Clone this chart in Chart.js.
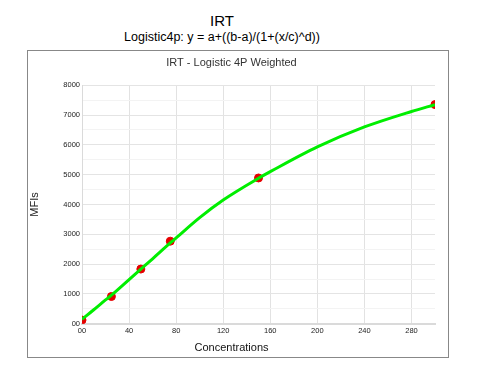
<!DOCTYPE html>
<html>
<head>
<meta charset="utf-8">
<script src="https://cdn.jsdelivr.net/npm/chart.js@4.4.0/dist/chart.umd.min.js"></script>
<style>
body{margin:0;background:#fff;font-family:"Liberation Sans",Arial,sans-serif;}
#wrap{position:relative;width:478px;height:376px;}
.hd{position:absolute;left:0;width:444px;text-align:center;color:#000;white-space:nowrap;}
#t1{top:12px;font-size:15px;}
#t2{top:30px;font-size:12.5px;}
#box{position:absolute;left:27px;top:50px;width:420px;height:306px;border:1px solid #888;}
canvas{display:block;}
</style>
</head>
<body>
<div id="wrap">
  <div class="hd" id="t1">IRT</div>
  <div class="hd" id="t2">Logistic4p: y = a+((b-a)/(1+(x/c)^d))</div>
  <div id="box"><canvas id="chart" width="420" height="306"></canvas></div>
</div>
<script>
// measured standards
var concentrations = [0, 25, 50, 75, 150, 300];
var mfiValues = [125, 915, 1835, 2770, 4890, 7350];

// fitted curve
var fitX = [0, 10, 20, 25, 30, 40, 50, 60, 75, 80, 100, 120, 150, 160, 200, 240, 280, 300];
var fitY = [150, 470, 800, 960, 1130, 1480, 1830, 2180, 2710, 2880, 3560, 4150, 4880, 5100, 5930, 6600, 7120, 7350];

var xTicks = [0, 40, 80, 120, 160, 200, 240, 280];
var xTickLabels = ['00', '40', '80', '120', '160', '200', '240', '280'];
var yTicks = [0, 500, 1000, 1500, 2000, 2500, 3000, 3500, 4000, 4500, 5000, 5500, 6000, 6500, 7000, 7500, 8000];
var yTickLabels = ['00', '', '1000', '', '2000', '', '3000', '', '4000', '', '5000', '', '6000', '', '7000', '', '8000'];

Chart.defaults.font.family = '"Liberation Sans", Arial, sans-serif';

var fitPoints = [];
for (var i = 0; i < fitX.length; i++) fitPoints.push({x: fitX[i], y: fitY[i]});
var stdPoints = [];
for (var j = 0; j < concentrations.length; j++) stdPoints.push({x: concentrations[j], y: mfiValues[j]});

new Chart(document.getElementById('chart').getContext('2d'), {
  type: 'line',
  data: {
    datasets: [
      {
        label: 'Fit',
        data: fitPoints,
        borderColor: '#00ee00',
        borderWidth: 3,
        pointRadius: 0,
        cubicInterpolationMode: 'monotone',
        fill: false,
        clip: 0,
        order: 0
      },
      {
        type: 'scatter',
        label: 'Standards',
        data: stdPoints,
        backgroundColor: '#e60000',
        borderColor: '#e60000',
        pointRadius: 4,
        clip: 0,
        order: 1
      }
    ]
  },
  options: {
    responsive: false,
    animation: false,
    layout: {padding: {left: 0, right: 13, top: 0, bottom: 0}},
    plugins: {
      legend: {display: false},
      tooltip: {enabled: false},
      title: {
        display: true,
        text: 'IRT - Logistic 4P Weighted',
        color: '#333',
        font: {size: 11, weight: 'normal'},
        padding: {top: 5, bottom: 16}
      },
      subtitle: {
        display: true,
        position: 'bottom',
        text: 'Concentrations',
        color: '#111',
        font: {size: 11, weight: 'normal'},
        padding: {top: 0, bottom: 2}
      }
    },
    scales: {
      x: {
        type: 'linear',
        min: 0,
        max: 300,
        afterBuildTicks: function(s){ s.ticks = xTicks.map(function(v){ return {value: v}; }); },
        afterFit: function(s){ s.height = 18; },
        grid: {color: '#e2e2e2', drawTicks: false},
        border: {color: '#dadada', width: 2},
        ticks: {
          font: {size: 7.5}, color: '#222', padding: 3, maxRotation: 0, autoSkip: false,
          callback: function(v, i){ return xTickLabels[i]; }
        }
      },
      y: {
        type: 'linear',
        min: 0,
        max: 8000,
        afterBuildTicks: function(s){ s.ticks = yTicks.map(function(v){ return {value: v}; }); },
        afterFit: function(s){ s.width = 54; },
        grid: {
          drawTicks: false,
          color: function(ctx){ return ctx.tick && ctx.tick.value % 1000 === 0 ? '#e4e4e4' : '#f3f3f3'; }
        },
        border: {color: '#dadada'},
        title: {display: true, text: 'MFIs', color: '#222', font: {size: 11}, padding: 0},
        ticks: {
          font: {size: 7.5}, color: '#222', padding: 2, autoSkip: false,
          callback: function(v, i){ return yTickLabels[i]; }
        }
      }
    }
  }
});
</script>
</body>
</html>
